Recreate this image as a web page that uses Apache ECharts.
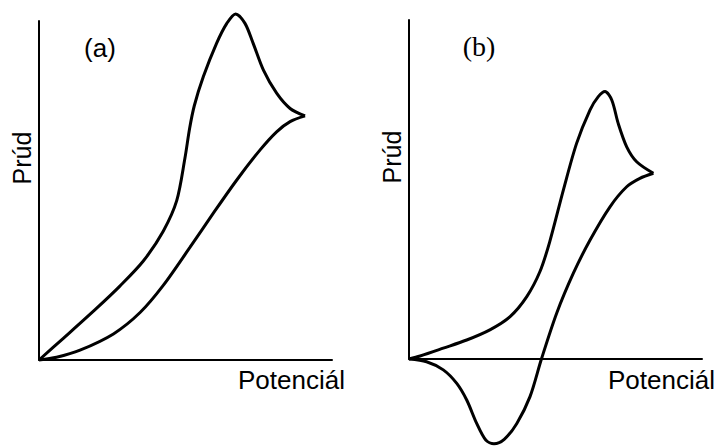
<!DOCTYPE html>
<html>
<head>
<meta charset="utf-8">
<script src="https://cdn.jsdelivr.net/npm/echarts@6/dist/echarts.min.js"></script>
<style>html,body{margin:0;padding:0;background:#fff}#c{width:717px;height:446px}</style>
</head>
<body>
<div id="c"></div>
<script>
// Panel (a): forward scan (upper branch) and return scan (lower branch), [potential, current]
const aForward = [[0,0],[8.3,6.4],[19.7,15.3],[27.6,21.8],[35.6,29.2],[42.4,38.0],[47.0,47.0],[49.8,59.5],[51.4,68.3],[53.0,75.0],[56.1,83.6],[60.6,93.4],[64.1,99.3],[67.1,102.1],[70.3,99.3],[73.1,93.4],[76.6,85.5],[81.1,78.7],[85.7,74.2],[90.8,72.0]];
const aReturn = [[90.8,72.0],[85.7,70.3],[81.1,67.3],[75.4,61.9],[67.5,53.1],[59.5,43.3],[51.5,33.2],[42.4,22.0],[34.5,14.0],[25.4,7.7],[14.0,2.9],[6.0,0.8],[0,0]];
// Panel (b)
const bForward = [[0,0],[3.8,0.9],[11.7,3.2],[19.7,5.6],[27.6,8.6],[34.5,12.5],[40.2,18.4],[44.7,25.8],[48.0,34.5],[52.7,49.9],[57.2,63.6],[61.8,73.5],[64.6,77.4],[66.9,78.9],[69.2,76.4],[71.4,69.5],[74.3,62.6],[77.7,58.2],[83.4,54.8]];
const bReturn = [[83.4,54.8],[78.8,53.3],[74.3,50.8],[68.6,44.9],[61.8,35.1],[56.1,25.3],[50.4,13.5],[45.2,0],[41.3,-11.1],[36.8,-19.0],[32.5,-23.7],[29.0,-25.0],[26.2,-23.9],[23.1,-19.0],[19.7,-12.1],[16.3,-7.2],[11.7,-3.2],[6.0,-0.8],[0,0]];
const panelLabels = ['(a)', '(b)'];
const xName = 'Potenciál';
const yName = 'Prúd';

const chart = echarts.init(document.getElementById('c'), null, {renderer: 'svg'});
const axisLine = {show: true, onZero: false, lineStyle: {color: '#000', width: 2}};
function xa(i){return {type:'value', gridIndex:i, min:0, max:100, axisLine:axisLine, axisTick:{show:false}, axisLabel:{show:false}, splitLine:{show:false}};}
function ya(i){return {type:'value', gridIndex:i, min:0, max:100, axisLine:axisLine, axisTick:{show:false}, axisLabel:{show:false}, splitLine:{show:false}};}
function ser(d, i){return {type:'line', xAxisIndex:i, yAxisIndex:i, data:d, smooth:0.3, showSymbol:false, symbol:'none', clip:false, lineStyle:{color:'#000', width:3}, silent:true};}
function txt(x, y, s, fam, size, rot, align){
  return {type:'text', x:x, y:y, rotation:rot||0, style:{text:s, fontFamily:fam, fontSize:size, fill:'#000', align:align||'center', verticalAlign:'middle', textAlign:align||'center', textVerticalAlign:'middle'}};
}
const sans = 'Liberation Sans';
const serif = 'Liberation Serif';
chart.setOption({
  animation: false,
  grid: [
    {left: 39, top: 21, width: 293, height: 339},
    {left: 409, top: 20, width: 293, height: 339}
  ],
  xAxis: [xa(0), xa(1)],
  yAxis: [ya(0), ya(1)],
  series: [ser(aForward,0), ser(aReturn,0), ser(bForward,1), ser(bReturn,1)],
  graphic: [
    txt(100, 48, panelLabels[0], sans, 26),
    txt(479, 46, panelLabels[1], serif, 28),
    txt(22, 158, yName, sans, 25, Math.PI/2),
    txt(392, 157, yName, sans, 25, Math.PI/2),
    txt(238, 380, xName, sans, 26, 0, 'left'),
    txt(608, 380, xName, sans, 26, 0, 'left')
  ]
});
</script>
</body>
</html>
